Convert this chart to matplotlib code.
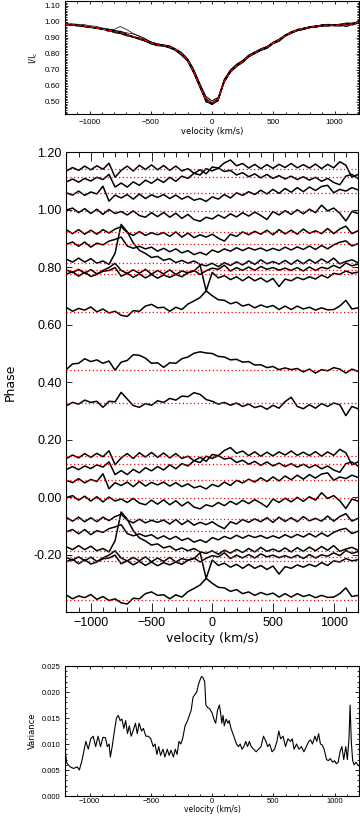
import matplotlib
matplotlib.use('Agg')
import matplotlib.pyplot as plt
import numpy as np
from matplotlib.ticker import MultipleLocator, FormatStrFormatter

plt.rcParams['font.family'] = ['Liberation Sans', 'DejaVu Sans']

# velocity grid of the spectra (km/s)
vel = np.arange(-1200, 1201, 50)

# mean line profile (I/Ic)
mean_prof = [0.983, 0.982, 0.978, 0.972, 0.967, 0.962, 0.955, 0.948, 0.942, 0.932,
             0.922, 0.910, 0.899, 0.885, 0.868, 0.857, 0.853, 0.845, 0.826, 0.800,
             0.760, 0.690, 0.600, 0.515, 0.490, 0.515, 0.630, 0.690, 0.725, 0.752,
             0.785, 0.808, 0.826, 0.843, 0.868, 0.890, 0.915, 0.935, 0.948, 0.958,
             0.966, 0.972, 0.976, 0.978, 0.979, 0.980, 0.982, 0.988, 0.998]

# orbital phases of the spectra
phases = [0.143, 0.115, 0.059, 0.996, 0.923, 0.882, 0.814, 0.791, 0.777, 0.643, 0.442, 0.328]

# residuals (spectrum - mean) as plotted, in units of 0.01 phase
res_143 = [-0.8, 0.4, -0.6, 0.9, -0.4, 1.0, -0.2, 1.9, -3.0, -0.6,
           0.9, -0.8, 1.2, -0.3, 1.3, -0.4, 1.1, -0.6, 0.9, -0.8,
           0.0, -1.6, -0.4, -1.8, 0.6, 0.2, 2.0, 3.0, 1.0, 1.8,
           0.2, 1.5, 0.0, 1.4, 0.1, 1.5, 0.4, 1.8, 0.3, 1.4,
           0.2, 1.6, 0.0, 1.5, 0.3, 2.4, 1.2, -3.0, -2.0]
res_115 = [-1.8, -0.8, -1.9, -0.6, -1.5, -0.2, -1.0, 0.8, -3.6, -2.2,
           -3.6, -1.8, -3.0, -1.2, -2.3, -0.8, -2.0, -0.2, -1.6, 0.2,
           -0.6, 1.2, 0.6, 2.8, 2.0, 3.0, 1.8, 2.2, 0.6, 1.4,
           0.0, 1.0, -0.4, 0.8, -0.6, 0.4, -0.8, 0.2, -1.0, 0.0,
           -1.2, -0.2, -1.6, -0.6, -2.0, -2.8, 0.2, 0.8, -0.6]
res_059 = [0.0, -0.8, 0.6, -0.9, 0.3, -0.4, 2.3, -2.9, -0.8, -1.8,
           -0.6, -2.2, -0.4, -2.0, -0.7, -1.6, -0.6, -2.0, -0.8, -2.2,
           -1.2, -2.6, -2.0, -3.0, -1.4, -2.2, -0.6, -1.8, 0.0, -0.9,
           0.4, -0.6, 0.9, -0.4, 1.2, -0.2, 1.5, 0.2, 1.8, 0.4,
           2.0, 0.8, 2.2, 2.6, 0.0, 1.2, 0.6, 1.8, 1.0]
res_996 = [0.3, 1.0, -0.6, 0.8, -0.9, 0.6, -1.2, 0.5, -0.9, -0.2,
           -1.4, 0.0, -1.6, -2.2, -0.6, -2.0, -0.5, -2.2, -0.8, -2.6,
           -1.2, -3.0, -3.6, -2.2, -2.8, -1.4, -2.5, -1.0, -2.1, -0.6,
           -1.8, -0.4, -1.6, -3.0, -0.2, -1.4, 0.1, -1.2, 0.4, -1.0,
           0.6, -0.6, 2.0, 0.0, 1.0, -0.8, -3.5, -0.2, -0.9]
res_923 = [0.7, -0.6, 0.8, -0.8, 0.6, -0.8, 0.8, -0.4, 1.0, 1.8,
           -0.2, -1.2, 0.1, -1.2, -0.3, -1.0, -0.2, -1.6, 0.0, -1.8,
           -0.4, -2.0, -1.0, -1.8, -0.8, -2.2, -3.2, -0.8, -1.6, 0.0,
           -1.0, 0.2, -0.8, 0.6, -1.0, 0.8, -0.7, 0.6, -0.8, 1.0,
           -0.5, 0.4, -0.6, 1.2, -0.6, 1.0, 2.0, -0.6, 0.4]
res_882 = [-0.2, 0.6, -0.9, 0.6, -1.2, 0.2, -0.4, 0.9, 1.5, 2.3,
           -0.8, -1.6, -0.9, -1.8, -1.2, -2.6, -1.6, -2.8, -1.8, -3.2,
           -2.4, -3.8, -3.0, -3.9, -2.2, -3.0, -1.8, -2.6, -1.4, -2.4,
           -1.4, -2.2, -1.5, -2.5, -1.6, -2.4, -1.2, -2.2, -1.1, -2.0,
           -0.8, -2.0, -0.6, -1.8, -0.4, 0.5, 1.0, -0.8, 0.0]
res_814 = [1.4, 0.4, 1.8, 0.4, 1.6, 0.0, 0.8, -0.4, 3.5, 13.5,
           11.0, 7.0, 4.5, 3.4, 2.0, 2.4, 1.0, 1.6, 0.2, 1.0,
           0.0, 0.8, -0.4, -0.9, 0.0, -1.2, 0.2, -0.8, 0.5, -0.6,
           0.8, -0.4, 1.2, -0.2, 0.6, -0.3, 1.0, -0.4, 1.1, -0.2,
           1.3, 0.0, 1.5, 0.2, 1.8, -0.2, 0.6, 1.2, 0.2]
res_791 = [0.0, -1.0, 0.2, -1.2, 0.1, -1.4, -0.2, 0.8, 2.3, -0.2,
           -1.2, 0.0, -1.2, 0.2, -1.5, -0.2, -1.4, 0.0, -1.6, -0.4,
           -1.0, -0.2, -1.6, -0.3, 0.6, 0.2, 1.6, -0.4, 0.8, -0.2,
           1.0, -0.2, 1.2, 0.2, 0.8, -0.1, 0.6, -0.2, 0.8, -0.4,
           1.0, -0.2, 0.9, 0.4, 1.6, 0.6, 2.4, 1.4, 2.0]
res_777 = [-0.1, 0.8, -0.8, 0.6, -0.9, -0.2, 0.9, 1.2, 2.2, -0.8,
           0.2, -1.2, 0.0, -1.4, -0.2, -1.5, -0.4, -1.2, -0.2, -1.0,
           0.4, 1.0, 3.0, -5.9, 0.5, -1.4, -0.6, -2.0, -1.0, -2.4,
           -1.0, -2.4, -1.4, -2.8, -1.6, -4.4, -1.8, -2.4, -1.2, -2.0,
           -1.0, -1.8, -0.4, -1.4, 0.2, -0.2, 1.0, 0.2, 0.6]
res_643 = [1.7, 0.4, 1.4, 0.8, 1.9, 0.2, 1.2, -0.2, 0.4, -1.0,
           -1.4, 0.6, 0.4, 2.2, 2.8, 1.6, 1.8, 0.4, 1.8, 1.0,
           2.9, 4.0, 5.2, 7.5, 5.8, 4.4, 4.2, 3.0, 3.6, 2.2,
           2.8, 1.6, 2.6, 1.8, 2.4, 1.0, 2.2, 1.0, 2.2, 1.2,
           1.8, 0.8, 1.6, 0.9, 1.0, 2.2, 4.2, 1.2, 1.6]
res_442 = [0.3, 2.2, 2.4, 4.0, 3.0, 3.6, 2.4, 3.2, 0.0, 2.8,
           3.4, 5.4, 5.2, 4.2, 2.4, 2.6, 1.0, 2.6, 2.4, 4.0,
           4.6, 5.9, 6.4, 6.0, 5.8, 4.8, 4.6, 3.6, 3.8, 2.8,
           3.0, 1.8, 1.9, 0.9, 1.3, 0.2, 0.8, 0.2, 0.6, -0.6,
           0.4, -1.0, 0.2, -0.2, 0.9, 0.4, -1.0, 0.4, -0.4]
res_328 = [-0.9, 0.2, -0.4, 1.0, 0.2, 0.6, -1.5, 0.6, 0.4, 3.7,
           1.4, -0.9, -1.5, -0.2, -0.8, 0.8, 0.2, 1.6, 1.0, 2.4,
           2.2, 3.6, 3.0, 1.2, 0.6, -0.4, 0.2, -0.8, 0.0, -1.2,
           -0.4, -1.6, -1.0, -2.2, -0.8, -1.8, 0.5, 2.0, -1.2, -2.0,
           -0.6, -1.8, -0.2, -1.2, 0.0, -0.6, -4.4, -1.2, -2.0]

residuals = [res_143, res_115, res_059, res_996, res_923, res_882,
             res_814, res_791, res_777, res_643, res_442, res_328]
resid_scale = 3.5   # residuals were blown up by this factor in the middle panel

# variance across the spectra
var_vel = [-1200, -1185, -1157, -1130, -1100, -1083, -1060, -1030, -1010, -990,
           -970, -950, -930, -910, -890, -870, -855, -840, -830, -815,
           -800, -780, -765, -750, -735, -720, -705, -690, -675, -660,
           -645, -625, -610, -595, -575, -560, -540, -520, -500, -480,
           -465, -450, -435, -420, -400, -385, -365, -350, -335, -315,
           -300, -285, -270, -255, -240, -220, -200, -185, -170, -155,
           -140, -125, -110, -95, -85, -75, -60, -50, -35, -20,
           0, 20, 30, 45, 60, 70, 80, 90, 100, 115,
           130, 140, 155, 170, 185, 200, 215, 230, 245, 260,
           275, 290, 305, 320, 340, 360, 380, 400, 420, 440,
           455, 470, 490, 510, 530, 545, 560, 580, 600, 620,
           640, 655, 670, 690, 710, 730, 750, 770, 790, 805,
           820, 840, 855, 870, 885, 900, 915, 925, 935, 950,
           965, 985, 1000, 1015, 1030, 1045, 1060, 1075, 1092, 1105,
           1118, 1127, 1137, 1148, 1160, 1175, 1190, 1200]
var_val = [0.0088, 0.0063, 0.0056, 0.0053, 0.0056, 0.0050, 0.0070, 0.0105, 0.0090, 0.0110,
           0.0115, 0.0095, 0.0115, 0.0095, 0.0113, 0.0112, 0.0095, 0.0100, 0.0075, 0.0095,
           0.0120, 0.0150, 0.0155, 0.0145, 0.0148, 0.0130, 0.0145, 0.0120, 0.0135, 0.0115,
           0.0125, 0.0140, 0.0120, 0.0140, 0.0125, 0.0130, 0.0115, 0.0115, 0.0110, 0.0095,
           0.0100, 0.0080, 0.0095, 0.0078, 0.0090, 0.0075, 0.0090, 0.0078, 0.0088, 0.0075,
           0.0090, 0.0080, 0.0105, 0.0100, 0.0110, 0.0135, 0.0145, 0.0155, 0.0165, 0.0190,
           0.0195, 0.0200, 0.0215, 0.0225, 0.0230, 0.0228, 0.0220, 0.0175, 0.0170, 0.0168,
           0.0160, 0.0145, 0.0140, 0.0165, 0.0175, 0.0160, 0.0140, 0.0155, 0.0135, 0.0148,
           0.0140, 0.0145, 0.0130, 0.0120, 0.0110, 0.0100, 0.0095, 0.0100, 0.0090, 0.0095,
           0.0105, 0.0095, 0.0105, 0.0095, 0.0090, 0.0085, 0.0090, 0.0095, 0.0115, 0.0105,
           0.0095, 0.0100, 0.0085, 0.0090, 0.0105, 0.0125, 0.0110, 0.0115, 0.0095, 0.0110,
           0.0105, 0.0110, 0.0090, 0.0100, 0.0090, 0.0095, 0.0085, 0.0095, 0.0105, 0.0108,
           0.0100, 0.0115, 0.0105, 0.0120, 0.0100, 0.0098, 0.0090, 0.0080, 0.0070, 0.0068,
           0.0072, 0.0065, 0.0068, 0.0062, 0.0065, 0.0085, 0.0095, 0.0070, 0.0095, 0.0070,
           0.0110, 0.0175, 0.0105, 0.0068, 0.0060, 0.0065, 0.0060, 0.0058]

small_lab = dict(family='DejaVu Sans', fontsize=6.0)
big_lab = dict(family='DejaVu Sans', fontsize=9)


def style_axes(ax, fsize, xmaj, ymaj):
    ax.set_xlim(-1200, 1200)
    ax.xaxis.set_major_locator(MultipleLocator(500))
    ax.xaxis.set_minor_locator(MultipleLocator(100))
    ax.tick_params(which='both', direction='in', top=True, right=True,
                   labelsize=fsize, width=0.6, colors='black')
    ax.tick_params(axis='x', which='major', length=xmaj)
    ax.tick_params(axis='x', which='minor', length=xmaj * 0.55)
    ax.tick_params(axis='y', which='major', length=ymaj)
    ax.tick_params(axis='y', which='minor', length=ymaj * 0.5)
    for s in ax.spines.values():
        s.set_linewidth(0.8)


fig = plt.figure(figsize=(3.6, 8.16), dpi=100)

# top panel: all the line profiles and their mean
ax1 = fig.add_axes([0.1806, 0.8603, 0.8167, 0.1385])
for r in residuals:
    ax1.plot(vel, np.array(mean_prof) + np.array(r) / 100.0 / resid_scale, color='k', lw=0.5)
ax1.plot(vel, mean_prof, color='red', ls=(0, (3, 2)), lw=0.9)
ax1.set_ylim(0.425, 1.13)
ax1.set_yticks(np.arange(0.5, 1.11, 0.1))
ax1.yaxis.set_major_formatter(FormatStrFormatter('%.2f'))
ax1.yaxis.set_minor_locator(MultipleLocator(0.01))
style_axes(ax1, 5.8, 2.5, 2.5)
ax1.set_xlabel('velocity (km/s)', labelpad=1, **small_lab)
ax1.set_ylabel('I/I$_\\mathrm{c}$', labelpad=3, **small_lab)

# middle panel: residuals stacked by phase
ax2 = fig.add_axes([0.1847, 0.2496, 0.8097, 0.5638])
for p, r in zip(phases, residuals):
    for k in (-1, 0, 1):
        ax2.plot(vel, p + k + np.array(r) / 100.0, color='k', lw=1.1, zorder=2)
        ax2.axhline(p + k, color='red', ls=(0, (1, 2)), lw=0.9, zorder=3)
ax2.set_ylim(-0.4, 1.2)
ax2.set_yticks(np.arange(-0.2, 1.21, 0.2))
ax2.yaxis.set_major_formatter(FormatStrFormatter('%.2f'))
style_axes(ax2, 9, 6.5, 4.5)
ax2.tick_params(axis='y', which='minor', length=0)
ax2.set_xlabel('velocity (km/s)', labelpad=2, **big_lab)
ax2.set_ylabel('Phase', labelpad=12, **big_lab)

# bottom panel: variance
ax3 = fig.add_axes([0.1806, 0.0245, 0.8167, 0.1593])
ax3.plot(var_vel, var_val, color='k', lw=0.8)
ax3.set_ylim(0, 0.025)
ax3.yaxis.set_major_locator(MultipleLocator(0.005))
ax3.yaxis.set_minor_locator(MultipleLocator(0.001))
ax3.yaxis.set_major_formatter(FormatStrFormatter('%.3f'))
style_axes(ax3, 5.5, 2.5, 3.0)
ax3.tick_params(axis='x', pad=1.5)
ax3.set_xlabel('velocity (km/s)', labelpad=0, family='DejaVu Sans', fontsize=5.5)
ax3.set_ylabel('Variance', labelpad=3, **small_lab)

fig.savefig('out.png', dpi=100)
